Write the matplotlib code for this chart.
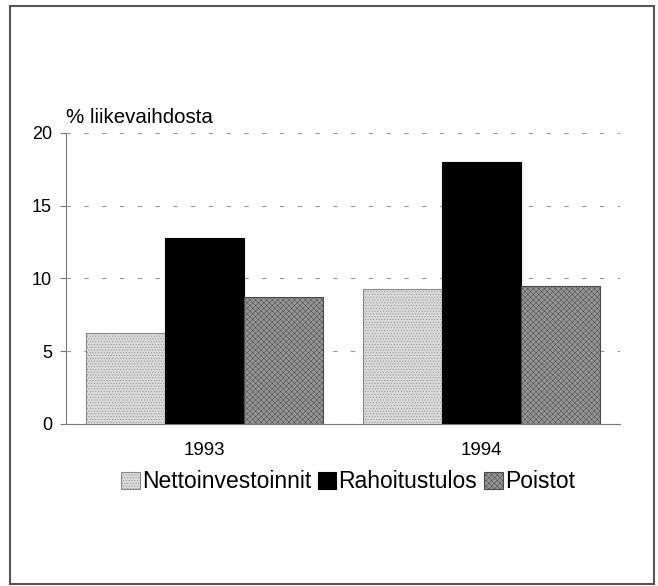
import matplotlib
matplotlib.use("Agg")
import matplotlib.pyplot as plt
from matplotlib.patches import Rectangle
import numpy as np

plt.rcParams['font.family'] = ['Liberation Sans', 'DejaVu Sans']
plt.rcParams['hatch.linewidth'] = 0.35

years = ["1993", "1994"]
series_names = ["Nettoinvestoinnit", "Rahoitustulos", "Poistot"]
netto = [6.25, 9.25]
rahoitus = [12.8, 18.0]
poistot = [8.7, 9.5]
yticks = [0, 5, 10, 15, 20]
ylabel = "% liikevaihdosta"

fig = plt.figure(figsize=(6.58, 5.86), dpi=100)
fig.patches.append(Rectangle((10/658, 1 - 584/586), 644/658, 578/586,
                             transform=fig.transFigure, fill=False,
                             edgecolor='#555555', linewidth=1.5))
ax = fig.add_axes([66/658, 1 - 424/586, 554/658, 291/586])

x = np.arange(len(years))
w = 0.285
styles = [
    dict(facecolor='#dadada', hatch='......', edgecolor='#8a8a8a'),
    dict(facecolor='#000000', hatch=None, edgecolor='#000000'),
    dict(facecolor='#959595', hatch='xxxxxx', edgecolor='#4a4a4a'),
]
for i, (vals, name) in enumerate(zip([netto, rahoitus, poistot], series_names)):
    ax.bar(x + (i - 1) * w, vals, width=w, label=name, linewidth=0.8, zorder=3,
           **styles[i])

ax.set_xlim(-0.5, 1.5)
ax.set_ylim(0, 20)
ax.set_yticks(yticks)
ax.set_xticks(x)
ax.set_xticklabels(years)
ax.yaxis.grid(True, linestyle=(0, (4, 12)), color='#999999', linewidth=0.8, zorder=0)
for s in ['top', 'right']:
    ax.spines[s].set_visible(False)
ax.spines['left'].set_color('#777777')
ax.spines['bottom'].set_color('#777777')
ax.tick_params(axis='y', length=4, color='#777777', labelsize=13, pad=6)
ax.tick_params(axis='x', length=0, labelsize=13.5, pad=13)
ax.text(0.0, 1.022, ylabel, transform=ax.transAxes, fontsize=14.8, ha='left', va='bottom')

leg = fig.legend(loc='center', bbox_to_anchor=(348/658, 1 - 482/586), ncol=3,
                 frameon=False, fontsize=16.5, handlelength=0.8, handleheight=0.8,
                 handletextpad=0.1, columnspacing=0.3, borderaxespad=0)

fig.savefig("out.png", dpi=100)
